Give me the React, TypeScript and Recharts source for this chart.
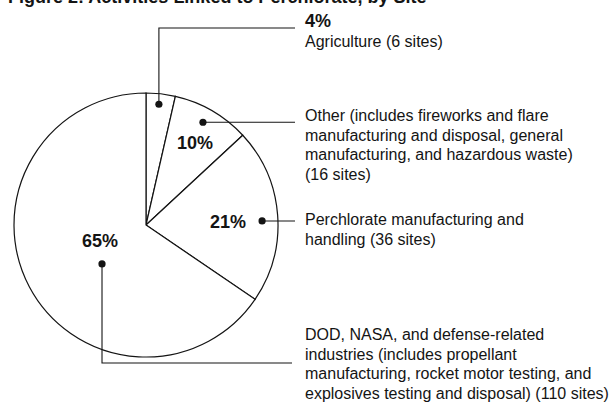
import React from 'react';
import { PieChart, Pie, Cell } from 'recharts';

const categories = [
  'Agriculture',
  'Other',
  'Perchlorate manufacturing and handling',
  'DOD, NASA, and defense-related industries',
];
const siteCounts = [6, 16, 36, 110];
const percentLabels = ['4%', '10%', '21%', '65%'];
const descriptionLines = [
  ['Agriculture (6 sites)'],
  [
    'Other (includes fireworks and flare',
    'manufacturing and disposal, general',
    'manufacturing, and hazardous waste)',
    '(16 sites)',
  ],
  ['Perchlorate manufacturing and', 'handling (36 sites)'],
  [
    'DOD, NASA, and defense-related',
    'industries (includes propellant',
    'manufacturing, rocket motor testing, and',
    'explosives testing and disposal) (110 sites)',
  ],
];
const titleText = 'Figure 2: Activities Linked to Perchlorate, by Site';

const data = categories.map((name, i) => ({ name, value: siteCounts[i] }));

const W = 615;
const H = 411;
const CX = 146;
const CY = 225;
const R = 132;
const FONT = '"Liberation Sans", Arial, Helvetica, sans-serif';
const INK = '#141414';

// layout of callouts (offsets relative to pie centre)
const layout = [
  { dotAngle: 83.9, dotFrac: 0.92, pct: { x: 159, y: -198 }, pctOutside: true, bendY: -197, lineEnd: 149, textX: 159, textY: -178 },
  { dotAngle: 61, dotFrac: 0.89, pct: { x: 31, y: -76 }, lineEnd: 149, textX: 159, textY: -104 },
  { dotAngle: 2, dotFrac: 0.88, pct: { x: 64, y: 3 }, lineEnd: 149, textX: 159, textY: 0 },
  { dotAngle: -138.5, dotFrac: 0.445, pct: { x: -64, y: 22 }, bendY: 138, lineEnd: 146, textX: 159, textY: 115 },
];

const RAD = Math.PI / 180;

function renderLabel(props: any) {
  const { cx, cy, outerRadius, index } = props;
  const L = layout[index];
  const r = outerRadius * L.dotFrac;
  const dx = cx + r * Math.cos(L.dotAngle * RAD);
  const dy = cy - r * Math.sin(L.dotAngle * RAD);
  let path = `M${dx},${dy}`;
  if (L.bendY !== undefined) {
    path += ` V${cy + L.bendY} H${cx + L.lineEnd}`;
  } else {
    path += ` H${cx + L.lineEnd}`;
  }
  const lines = descriptionLines[index];
  return (
    <g key={`lbl-${index}`}>
      <path d={path} fill="none" stroke={INK} strokeWidth={1.1} />
      <circle cx={dx} cy={dy} r={3.6} fill={INK} />
      <text
        x={cx + L.pct.x}
        y={cy + L.pct.y}
        fontFamily={FONT}
        fontWeight="bold"
        fontSize={18}
        fill={INK}
      >
        {percentLabels[index]}
      </text>
      {lines.map((ln, j) => (
        <text
          key={j}
          x={cx + L.textX}
          y={cy + L.textY + j * 19.6}
          fontFamily={FONT}
          fontSize={16}
          fill={INK}
        >
          {ln}
        </text>
      ))}
    </g>
  );
}

export default function App() {
  return (
    <div style={{ position: 'fixed', left: 0, top: 0, width: W, height: H, background: '#fff' }}>
      <PieChart width={W} height={H} margin={{ top: 0, right: 0, bottom: 0, left: 0 }}>
        <Pie
          data={data}
          dataKey="value"
          nameKey="name"
          cx={CX}
          cy={CY}
          outerRadius={R}
          startAngle={90}
          endAngle={-270}
          stroke={INK}
          strokeWidth={1.2}
          isAnimationActive={false}
          labelLine={false}
          label={renderLabel}
        >
          {data.map((d, i) => (
            <Cell key={i} fill="#ffffff" stroke={INK} strokeWidth={1.2} />
          ))}
        </Pie>
      </PieChart>
      <svg width={W} height={H} style={{ position: 'absolute', left: 0, top: 0, pointerEvents: 'none' }}>
        <text x={8} y={3} fontFamily={FONT} fontWeight="bold" fontSize={18} fill={INK}>
          {titleText}
        </text>
      </svg>
    </div>
  );
}
